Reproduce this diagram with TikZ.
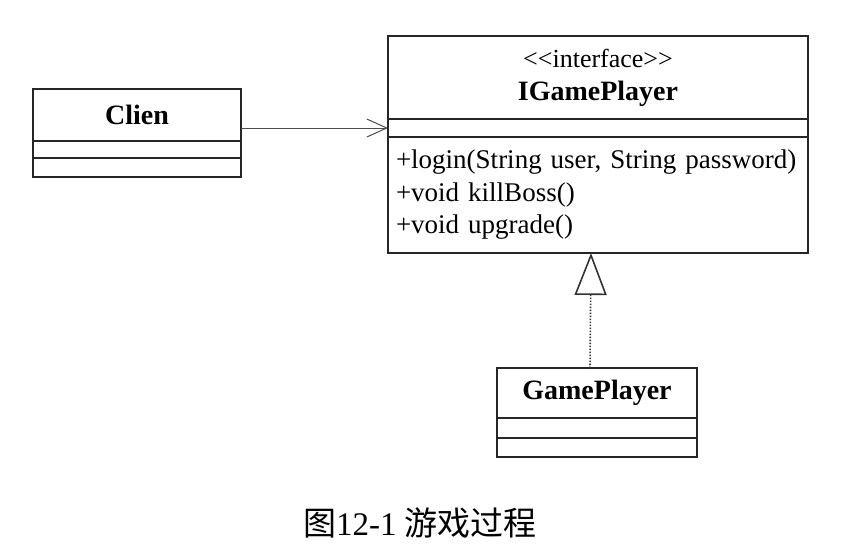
\documentclass[tikz,border=0pt]{standalone}
\usepackage{fontspec}
\setmainfont{Liberation Serif}
\newfontfamily\cjk{Noto Sans CJK SC}
\usetikzlibrary{arrows.meta, positioning}

\begin{document}
\begin{tikzpicture}[
        x=1pt, y=-1pt,
        node distance=0pt,
        classname/.style={rectangle, draw=black!85, line width=1.4pt, inner sep=0pt, outer sep=0pt, align=center, font=\fontsize{28}{33}\selectfont\bfseries},
        compartment/.style={rectangle, draw=black!85, line width=1.4pt, inner sep=0pt, outer sep=0pt},
        methods/.style={compartment, align=left, inner xsep=8pt, font=\fontsize{27}{32.5}\selectfont},
        assoc/.style={-{Straight Barb[length=20pt, width=18pt]}, line width=1pt, black!70},
        realize/.style={-{Triangle[open, length=42pt, width=32pt]}, line width=1.6pt, black!80, dash pattern=on 1.5pt off 1.5pt}
    ]
        \useasboundingbox (0,0) rectangle (848,558);

        % Nodes
        \node[classname, minimum width=208pt, minimum height=52pt] (clien) at (137,115) {Clien};
        \node[compartment, minimum width=208pt, minimum height=17pt, below=of clien] (clienattr) {};
        \node[compartment, minimum width=208pt, minimum height=19pt, below=of clienattr] (clienops) {};

        \node[classname, minimum width=420pt, minimum height=83pt] (igame) at (598,77.5) {{\mdseries\fontsize{26}{33}\selectfont <{}<interface>{}>}\\IGamePlayer};
        \node[compartment, minimum width=420pt, minimum height=18pt, below=of igame] (igameattr) {};
        \node[methods, text width=404pt, minimum height=116pt, below=of igameattr] (igameops) {+login(String user, String password)\\+void killBoss()\\+void upgrade()};

        \node[classname, minimum width=200pt, minimum height=50pt] (gameplayer) at (597,393) {GamePlayer};
        \node[compartment, minimum width=200pt, minimum height=20pt, below=of gameplayer] (gameplayerattr) {};
        \node[compartment, minimum width=200pt, minimum height=19pt, below=of gameplayerattr] (gameplayerops) {};

        \node[font=\fontsize{33}{33}\selectfont] (caption) at (420,523) {{\cjk 图}12-1 {\cjk 游戏过程}};

        % Paths
        \draw[assoc] (igameattr.west -| clien.east) -- (igameattr.west);
        \draw[realize] ([xshift=-7pt]gameplayer.north) -- ([xshift=-7pt]igameops.south);

    \end{tikzpicture}
\end{document}
